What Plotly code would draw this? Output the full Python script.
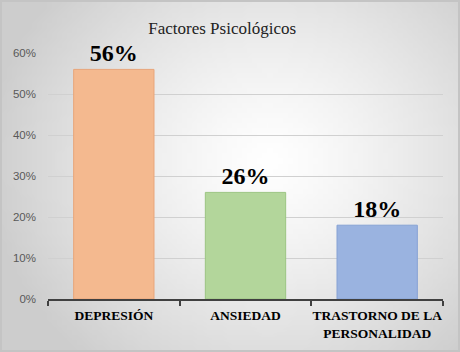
import plotly.graph_objects as go
import numpy as np
import zlib, struct, base64

categories = ["DEPRESIÓN", "ANSIEDAD", "TRASTORNO DE LA<br>PERSONALIDAD"]
values = [0.56, 0.26, 0.18]
labels = ["56%", "26%", "18%"]
colors = ["#f4b98f", "#b3d69b", "#9ab3e0"]
borders = ["#e8a57a", "#9cc583", "#86a2d4"]
y_ticks = [0, 0.1, 0.2, 0.3, 0.4, 0.5, 0.6]
y_tick_text = ["0%", "10%", "20%", "30%", "40%", "50%", "60%"]


def gradient_png(w=92, h=70):
    yy, xx = np.mgrid[0:h, 0:w]
    cx, cy = w * 0.58, h * 0.45
    d = np.sqrt(((xx - cx) / (w * 0.62)) ** 2 + ((yy - cy) / (h * 0.75)) ** 2)
    d = np.clip(d, 0, 1)
    v = (255 - d ** 1.3 * 50).astype(np.uint8)
    raw = b"".join(b"\x00" + bytes(np.repeat(row, 3).tolist()) for row in v)

    def chunk(t, data):
        c = struct.pack(">I", len(data)) + t + data
        return c + struct.pack(">I", zlib.crc32(t + data) & 0xffffffff)

    png = b"\x89PNG\r\n\x1a\n" + chunk(b"IHDR", struct.pack(">IIBBBBB", w, h, 8, 2, 0, 0, 0))
    png += chunk(b"IDAT", zlib.compress(raw)) + chunk(b"IEND", b"")
    return "data:image/png;base64," + base64.b64encode(png).decode()


fig = go.Figure()
fig.add_trace(go.Bar(
    x=categories, y=values, text=labels, textposition="outside",
    marker=dict(color=colors, line=dict(color=borders, width=1)),
    textfont=dict(family="Liberation Serif", size=24, color="black"),
    texttemplate="<b>%{text}</b>", cliponaxis=False, width=0.61,
))

L, R, T, B = 48, 17, 53, 53
PW, PH = 460 - L - R, 352 - T - B
fig.update_layout(
    width=460, height=352,
    margin=dict(l=L, r=R, t=T, b=B, autoexpand=False),
    paper_bgcolor="#e6e6e6", plot_bgcolor="rgba(0,0,0,0)",
    title=dict(text="Factores Psicológicos", x=0.483, xanchor="center", y=0.92, yanchor="middle",
               font=dict(family="Liberation Serif", size=17, color="#222222")),
    showlegend=False,
    images=[dict(source=gradient_png(), xref="paper", yref="paper",
                 x=-L / PW, y=1 + T / PH, sizex=460 / PW, sizey=352 / PH,
                 xanchor="left", yanchor="top", sizing="stretch", layer="below")],
)
fig.update_yaxes(range=[0, 0.6], tickvals=y_ticks, ticktext=y_tick_text,
                 showgrid=True, gridcolor="#d0d0d0", gridwidth=1, zeroline=False,
                 tickfont=dict(family="Liberation Sans", size=11.5, color="#595959"),
                 ticks="", ticklabelstandoff=11, automargin=False)
fig.update_xaxes(showline=True, linecolor="#404040", linewidth=2,
                 ticks="outside", tickson="boundaries", ticklen=5, tickcolor="#404040", tickwidth=2,
                 tickfont=dict(family="Liberation Serif", size=13.5, color="black"),
                 tickprefix="<b>", ticksuffix="</b>", ticklabelstandoff=3,
                 tickangle=0, automargin=False)
fig.add_shape(type="rect", xref="paper", yref="paper", x0=-(L - 1) / PW, x1=1 + (R - 1) / PW,
              y0=-(B - 1) / PH, y1=1 + (T - 1) / PH, line=dict(color="#c4c4c4", width=2))
fig.write_html("out.html")
